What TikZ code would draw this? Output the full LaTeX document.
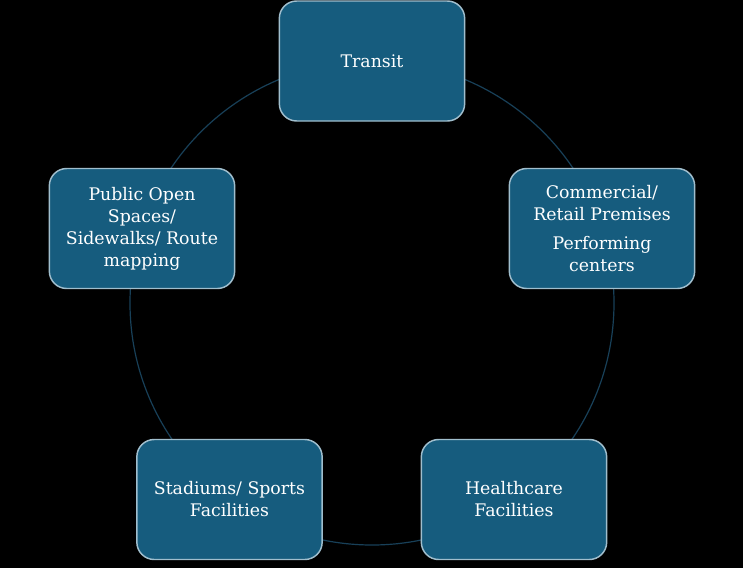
\documentclass[tikz,border=0pt]{standalone}
\usepackage{fontspec}
\setmainfont{DejaVu Serif}
\begin{document}
\begin{tikzpicture}[x=0.75pt,y=-0.75pt,
  ring/.style={draw=circ, line width=0.9pt},
  card/.style={draw=cardedge, fill=cardfill, line width=1.1pt, rounded corners=13pt,
    minimum width=139pt, minimum height=90pt, text=white, align=center,
    font=\fontsize{13}{16.5}\selectfont, inner sep=2pt},
]
\definecolor{circ}{RGB}{24,64,88}
\definecolor{cardfill}{RGB}{22,92,126}
\definecolor{cardedge}{RGB}{160,190,205}
\fill[black] (0,0) rectangle (743,568);
\useasboundingbox (0,0) rectangle (743,568);
\node[ring, circle, minimum size=363pt, inner sep=0pt] (ring) at (372,303) {};
\node[card] (transit) at (372,61) {Transit};
\node[card] (comm) at (602,228.5) {Commercial/\\Retail Premises\\[5pt]Performing\\centers};
\node[card] (health) at (514,499.5) {Healthcare\\Facilities};
\node[card] (stad) at (229.5,499.5) {Stadiums/ Sports\\Facilities};
\node[card] (pub) at (142,228.5) {Public Open\\Spaces/\\Sidewalks/ Route\\mapping};
\end{tikzpicture}
\end{document}
